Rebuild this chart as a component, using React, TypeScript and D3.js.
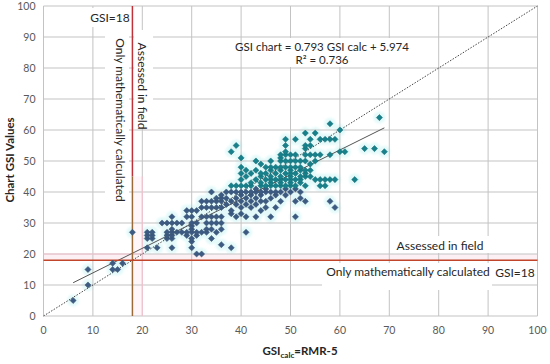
import React, { useRef, useEffect } from 'react';
import * as d3 from 'd3';

// GSI chart value (row) -> GSI calc values measured at that row
const ROW_Y = [5, 10, 15, 17, 20, 22, 23, 24, 25, 26, 27, 28, 29, 30, 32, 33, 34, 35, 36, 37, 38, 39, 40, 41, 42, 43, 44, 45, 46, 47, 48, 49, 50, 51, 52, 53, 54, 55, 57, 59, 60, 62, 64];
const ROW_X = [
  [6],
  [9],
  [9, 14, 15],
  [14, 16],
  [31, 32],
  [21, 23, 26, 30, 38],
  [36],
  [30],
  [21, 22, 25, 26, 30, 34],
  [21, 22, 25, 26, 29, 31],
  [18, 21, 22, 25, 26, 27, 28, 29, 30, 31, 32, 33, 35, 41],
  [26, 30, 33, 34, 36],
  [30],
  [24, 25, 26, 27, 28, 30, 31, 33, 34, 35, 36],
  [26, 29, 30, 32, 33, 34, 35, 36, 39, 41, 43, 46, 51],
  [38, 40],
  [29, 30, 31, 38, 44],
  [32, 33, 34, 35, 36, 40, 42, 45, 47, 59],
  [37, 39, 41, 43],
  [32, 33, 34, 35, 36, 38, 40, 42, 44, 45, 48, 51, 53, 58],
  [35, 36, 37, 39, 41, 43, 46, 52],
  [36, 40, 42, 44, 47, 49],
  [34, 37, 38, 39, 40, 41, 42, 43, 44, 45, 46, 47, 48, 50, 52],
  [43, 45, 49, 51],
  [38, 39, 40, 41, 42, 44, 45, 46, 47, 48, 49, 50, 51, 53, 56, 57],
  [42, 44, 46, 48, 50, 52],
  [40, 43, 45, 46, 47, 48, 49, 50, 51, 52, 55, 56, 57, 58, 59, 63],
  [41, 44, 46, 48, 50, 52, 53, 54],
  [40, 42, 44, 45, 47, 49, 50, 51, 53],
  [41, 43, 46, 48, 50, 52, 53, 54],
  [40, 45, 46, 47, 48, 49, 50, 51, 52],
  [44, 54],
  [43, 46, 48, 49, 50, 51, 52, 53, 55],
  [40, 48],
  [48, 49, 50, 51, 53, 54, 55, 56, 58],
  [38, 49, 60, 61, 69],
  [53, 65, 67],
  [39, 49, 53, 54],
  [49, 51, 54, 56, 57, 58, 59],
  [53, 55],
  [60],
  [58],
  [68],
];

const TICKS = [0, 10, 20, 30, 40, 50, 60, 70, 80, 90, 100];
const FIT_SLOPE = 0.793;
const FIT_INTERCEPT = 5.974;
const FIT_RANGE = [6, 69];
const GSI_LIMIT = 18;

const App = () => {
  const svgRef = useRef<SVGSVGElement>(null);

  useEffect(() => {
    const points = ROW_Y.flatMap((yv, i) => ROW_X[i].map(xv => ({ x: xv, y: yv })));

    const svg = d3.select(svgRef.current);
    svg.selectAll('*').remove();

    const margin = { top: 6, right: 12.5, bottom: 48, left: 43.5 };
    const width = 550 - margin.left - margin.right;
    const height = 364 - margin.top - margin.bottom;

    const x = d3.scaleLinear().domain([0, 100]).range([0, width]);
    const y = d3.scaleLinear().domain([0, 100]).range([height, 0]);

    const font = 'Lato, "Open Sans", sans-serif';

    svg.append('defs').append('filter')
      .attr('id', 'glow')
      .append('feGaussianBlur')
      .attr('stdDeviation', 1.2);

    const g = svg.append('g').attr('transform', `translate(${margin.left},${margin.top})`);

    // marker glow
    g.append('g')
      .attr('filter', 'url(#glow)')
      .selectAll('circle')
      .data(points)
      .enter().append('circle')
      .attr('cx', d => x(d.x))
      .attr('cy', d => y(d.y))
      .attr('r', 6)
      .attr('fill', '#e3f9f9');

    // pink glow around the GSI=18 limits
    g.append('rect')
      .attr('x', 0).attr('width', width)
      .attr('y', y(20)).attr('height', y(GSI_LIMIT) - y(20))
      .attr('fill', '#fdf0f4');
    g.append('rect')
      .attr('x', x(GSI_LIMIT)).attr('width', x(20) - x(GSI_LIMIT))
      .attr('y', y(45)).attr('height', y(0) - y(45))
      .attr('fill', '#fef6f8');

    // grid
    g.append('g').selectAll('line')
      .data(TICKS)
      .enter().append('line')
      .attr('x1', d => x(d)).attr('x2', d => x(d))
      .attr('y1', 0).attr('y2', height)
      .attr('stroke', '#c3c3c3');
    g.append('g').selectAll('line')
      .data(TICKS)
      .enter().append('line')
      .attr('y1', d => y(d)).attr('y2', d => y(d))
      .attr('x1', 0).attr('x2', width)
      .attr('stroke', '#c3c3c3');

    g.append('line')
      .attr('x1', x(20)).attr('x2', x(20))
      .attr('y1', y(45)).attr('y2', y(0))
      .attr('stroke', '#f5c2cf');
    g.append('line')
      .attr('x1', 0).attr('x2', x(20))
      .attr('y1', y(20)).attr('y2', y(20))
      .attr('stroke', '#f5c2cf');

    // white label boxes (pixel space)
    const boxes = [
      [88, 8, 42, 19],
      [105, 30, 24, 170],
      [134, 30, 19, 98],
      [245, 38, 153, 29],
      [392, 236, 98, 17],
      [322, 263, 170, 27],
      [492, 263, 45, 21],
    ];
    svg.append('g').selectAll('rect')
      .data(boxes)
      .enter().append('rect')
      .attr('x', d => d[0]).attr('y', d => d[1])
      .attr('width', d => d[2]).attr('height', d => d[3])
      .attr('fill', '#fff');

    // 1:1 line and regression
    g.append('line')
      .attr('x1', x(0)).attr('y1', y(0))
      .attr('x2', x(100)).attr('y2', y(100))
      .attr('stroke', '#444').attr('stroke-width', 1)
      .attr('stroke-dasharray', '1.5,1.5');
    g.append('line')
      .attr('x1', x(FIT_RANGE[0])).attr('y1', y(FIT_SLOPE * FIT_RANGE[0] + FIT_INTERCEPT))
      .attr('x2', x(FIT_RANGE[1])).attr('y2', y(FIT_SLOPE * FIT_RANGE[1] + FIT_INTERCEPT))
      .attr('stroke', '#555').attr('stroke-width', 1);

    // GSI = 18 lines
    g.append('line')
      .attr('x1', x(GSI_LIMIT)).attr('x2', x(GSI_LIMIT))
      .attr('y1', y(100)).attr('y2', y(45))
      .attr('stroke', '#c0313a').attr('stroke-width', 1.5);
    g.append('line')
      .attr('x1', x(GSI_LIMIT)).attr('x2', x(GSI_LIMIT))
      .attr('y1', y(45)).attr('y2', y(0))
      .attr('stroke', '#9a6a3a').attr('stroke-width', 1.5);
    g.append('line')
      .attr('x1', 0).attr('x2', width)
      .attr('y1', y(GSI_LIMIT)).attr('y2', y(GSI_LIMIT))
      .attr('stroke', '#c0452b').attr('stroke-width', 1.5);

    // markers
    const diamond = d3.symbol().type(d3.symbolDiamond2).size(24);
    g.append('g').selectAll('path')
      .data(points)
      .enter().append('path')
      .attr('d', diamond)
      .attr('transform', d => `translate(${x(d.x)},${y(d.y)})`)
      .attr('fill', d => (d.y >= 42 ? '#17808b' : '#3d5a82'))
      .attr('stroke', d => (d.y >= 42 ? '#126a73' : '#34506f'))
      .attr('stroke-width', 0.5);

    // tick labels
    g.append('g').selectAll('text')
      .data(TICKS)
      .enter().append('text')
      .attr('x', -8).attr('y', d => y(d))
      .attr('dy', '0.35em')
      .attr('text-anchor', 'end')
      .attr('font-family', font).attr('font-size', 10.5).attr('fill', '#595959')
      .text(d => d);
    g.append('g').selectAll('text')
      .data(TICKS)
      .enter().append('text')
      .attr('x', d => x(d)).attr('y', height + 14)
      .attr('dy', '0.35em')
      .attr('text-anchor', 'middle')
      .attr('font-family', font).attr('font-size', 10.5).attr('fill', '#595959')
      .text(d => d);

    // annotations
    const label = (tx: number, ty: number, text: string, rotate = 0, size = 12) => svg.append('text')
      .attr('transform', `translate(${tx},${ty}) rotate(${rotate})`)
      .attr('text-anchor', 'middle')
      .attr('dy', '0.35em')
      .attr('font-family', font).attr('font-size', size).attr('fill', '#262626')
      .text(text);

    label(110, 18, 'GSI=18');
    label(120, 120, 'Only mathematically calculated', 90);
    label(142, 86, 'Assessed in field', 90);
    label(322, 47, 'GSI chart = 0.793 GSI calc + 5.974', 0, 11.5);
    label(322, 60, 'R² = 0.736', 0, 11.5);
    label(440, 246, 'Assessed in field');
    label(408, 272, 'Only mathematically calculated');
    label(515, 273, 'GSI=18');

    // axis titles
    svg.append('text')
      .attr('transform', 'translate(10,160) rotate(-90)')
      .attr('text-anchor', 'middle').attr('dy', '0.35em')
      .attr('font-family', font).attr('font-size', 11.5).attr('font-weight', 'bold').attr('fill', '#262626')
      .text('Chart GSI Values');

    const xt = svg.append('text')
      .attr('x', 300).attr('y', 355)
      .attr('text-anchor', 'middle')
      .attr('font-family', font).attr('font-size', 11.5).attr('font-weight', 'bold').attr('fill', '#262626');
    xt.append('tspan').text('GSI');
    xt.append('tspan').attr('font-size', 8).attr('dy', 3).text('calc');
    xt.append('tspan').attr('dy', -3).text('=RMR-5');
  }, []);

  return (
    <svg ref={svgRef} width={550} height={364} style={{ position: 'absolute', left: 0, top: 0 }} />
  );
};

export default App;
